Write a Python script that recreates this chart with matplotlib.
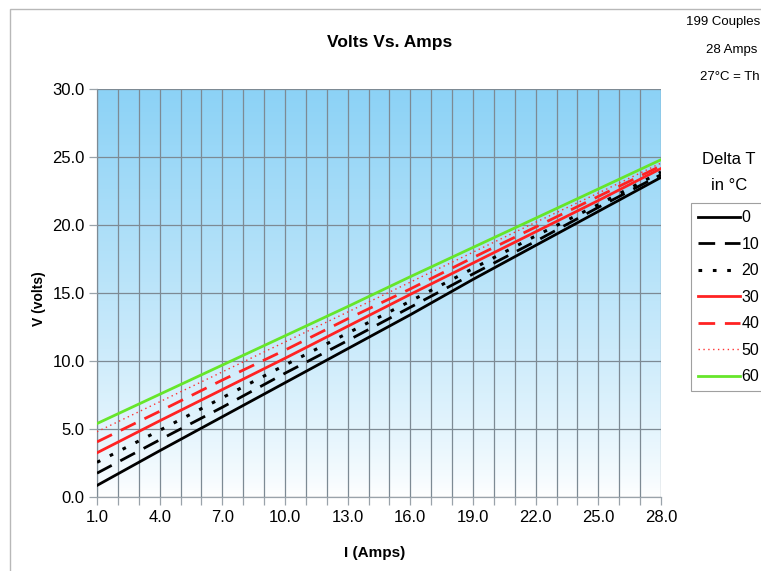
import numpy as np
import matplotlib
matplotlib.use("Agg")
import matplotlib.pyplot as plt
from matplotlib.patches import Rectangle
from matplotlib.ticker import FixedLocator, FuncFormatter

plt.rcParams['font.family'] = ['Liberation Sans', 'DejaVu Sans']

# current in amps
amps = [1, 4, 7, 10, 13, 16, 19, 22, 25, 28]

# voltage for each delta T
v_dt0 = [0.85, 3.4, 5.9, 8.4, 10.9, 13.4, 16.0, 18.5, 21.0, 23.5]
v_dt10 = [1.75, 4.2, 6.6, 9.1, 11.5, 13.95, 16.4, 18.8, 21.3, 23.7]
v_dt20 = [2.55, 4.9, 7.3, 9.7, 12.05, 14.4, 16.8, 19.2, 21.5, 23.9]
v_dt30 = [3.25, 5.6, 7.9, 10.2, 12.55, 14.9, 17.2, 19.5, 21.8, 24.15]
v_dt40 = [4.05, 6.3, 8.6, 10.8, 13.1, 15.3, 17.6, 19.85, 22.1, 24.35]
v_dt50 = [4.8, 7.0, 9.2, 11.4, 13.6, 15.8, 18.0, 20.2, 22.35, 24.55]
v_dt60 = [5.4, 7.55, 9.7, 11.85, 14.0, 16.2, 18.35, 20.5, 22.65, 24.8]

labels = ["0", "10", "20", "30", "40", "50", "60"]
series = [v_dt0, v_dt10, v_dt20, v_dt30, v_dt40, v_dt50, v_dt60]

xticks_lab = [1, 4, 7, 10, 13, 16, 19, 22, 25, 28]
yticks = [0, 5, 10, 15, 20, 25, 30]

W, H = 761, 571
fig = plt.figure(figsize=(W / 100, H / 100), dpi=100)
ax = fig.add_axes([97 / W, 1 - 497 / H, (661 - 97) / W, (497 - 89) / H])

# gradient background (blue at top, white at bottom)
grad = np.linspace(0, 1, 256).reshape(-1, 1)
top = np.array([140, 210, 246]) / 255
bot = np.array([255, 255, 255]) / 255
img = bot + (top - bot) * grad[:, :, None] ** 0.8
ax.imshow(img, extent=[1, 28, 0, 30], origin='lower', aspect='auto', zorder=0)

styles = [
    dict(color='black', lw=2.0, ls='-'),
    dict(color='black', lw=2.0, ls=(0, (6, 3.5))),
    dict(color='black', lw=2.2, ls=(0, (1.2, 3.5))),
    dict(color='#ff2222', lw=2.0, ls='-'),
    dict(color='#ff2222', lw=2.0, ls=(0, (6, 3.5))),
    dict(color='#ff3333', lw=1.0, ls=(0, (1, 2.5))),
    dict(color='#66e62a', lw=2.0, ls='-'),
]
for v, lab, st in zip(series, labels, styles):
    ax.plot(amps, v, label=lab, zorder=3, **st)

ax.set_xlim(1, 28)
ax.set_ylim(0, 30)
ax.xaxis.set_major_locator(FixedLocator(range(1, 29)))
ax.xaxis.set_major_formatter(FuncFormatter(lambda x, p: f"{x:.1f}" if int(round(x)) in xticks_lab else ""))
ax.set_yticks(yticks)
ax.yaxis.set_major_formatter(FuncFormatter(lambda y, p: f"{y:.1f}"))
ax.grid(True, color='#7d8a94', lw=0.9, zorder=1)
ax.set_axisbelow(False)
ax.tick_params(axis='both', length=6, width=0.9, color='#9aa3aa', labelsize=12, pad=3)
for s in ax.spines.values():
    s.set_color('#9aa3aa')
    s.set_linewidth(0.9)
ax.spines['top'].set_visible(False)
ax.spines['right'].set_visible(False)

fig.text(390 / W, 1 - 42 / H, "Volts Vs. Amps", ha='center', va='center',
         fontsize=12.5, fontweight='bold')
fig.text(375 / W, 1 - 553 / H, "I (Amps)", ha='center', va='center',
         fontsize=11, fontweight='bold')
fig.text(39 / W, 1 - 299 / H, "V (volts)", ha='center', va='center',
         fontsize=10, fontweight='bold', rotation=90)

fig.text(686 / W, 1 - 22 / H, "199 Couples", ha='left', va='center', fontsize=9.5)
fig.text(706 / W, 1 - 50 / H, "28 Amps", ha='left', va='center', fontsize=9.5)
fig.text(700 / W, 1 - 77 / H, "27°C = Th", ha='left', va='center', fontsize=9.5)
fig.text(729 / W, 1 - 160 / H, "Delta T", ha='center', va='center', fontsize=12)
fig.text(729 / W, 1 - 185 / H, "in °C", ha='center', va='center', fontsize=12)

leg = ax.legend(loc='upper left', bbox_to_anchor=(691 / W, 1 - 203 / H),
                bbox_transform=fig.transFigure, fontsize=11.5, frameon=True,
                fancybox=False, edgecolor='#888888', handlelength=2.6,
                handletextpad=0.1, labelspacing=0.72, borderpad=0.45,
                borderaxespad=0)
leg.get_frame().set_linewidth(0.8)

# outer chart border (partly cropped)
fig.patches.append(Rectangle((10 / W, -0.1), 1.0, 1.1 - 9 / H, transform=fig.transFigure,
                             fill=False, edgecolor='#b8b8b8', lw=1.0))

fig.savefig("out.png", dpi=100)
